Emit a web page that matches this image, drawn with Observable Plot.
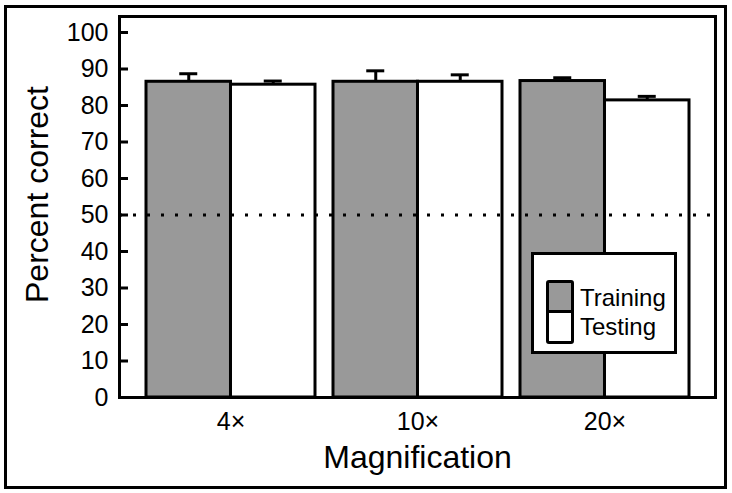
<!DOCTYPE html>
<html>
<head>
<meta charset="utf-8">
<script src="https://cdn.jsdelivr.net/npm/d3@7"></script>
<script src="https://cdn.jsdelivr.net/npm/@observablehq/plot@0.6"></script>
<style>
  html, body { margin: 0; padding: 0; background: #fff; }
  #wrap { position: relative; width: 732px; height: 493px; font-family: "Liberation Sans", Arial, sans-serif; }
  #legend { position: absolute; left: 531px; top: 252px; width: 146px; height: 102px; box-sizing: border-box;
            border: 3px solid #000; background: #fff; }
  .sw { position: absolute; left: 12px; width: 28px; box-sizing: border-box; border: 3px solid #000; }
  .lab { position: absolute; left: 46px; font-size: 24px; line-height: 24px; color: #000; white-space: nowrap; }
</style>
</head>
<body>
<div id="wrap"></div>
<script>
const categories = ["4×", "10×", "20×"];
const sets = ["Training", "Testing"];
const trainingMean = [86.5, 86.5, 86.7];
const trainingErr = [2.2, 3.0, 0.9];
const testingMean = [85.7, 86.5, 81.4];
const testingErr = [1.0, 1.9, 1.1];
const yTicks = [0, 10, 20, 30, 40, 50, 60, 70, 80, 90, 100];
const chanceLevel = 50;
const colors = {Training: "#999999", Testing: "#ffffff"};

const data = [];
categories.forEach((c, i) => {
  data.push({mag: c, set: "Training", mean: trainingMean[i], hi: trainingMean[i] + trainingErr[i]});
  data.push({mag: c, set: "Testing", mean: testingMean[i], hi: testingMean[i] + testingErr[i]});
});
const train = data.filter(d => d.set === "Training");
const test = data.filter(d => d.set === "Testing");

const W = 732, H = 493;
const mL = 119, mR = 17, mT = 16, mB = 96;
const pIn = 0.0987, pOut = 0.1387;
const bw = (W - mL - mR) * (1 - pIn) / (categories.length - pIn + 2 * pOut);
const capHalf = 9;

const plot = Plot.plot({
  width: W, height: H,
  marginLeft: mL, marginRight: mR, marginTop: mT, marginBottom: mB,
  style: {fontFamily: "'Liberation Sans', Arial, sans-serif", fontSize: "25px", color: "#000", background: "transparent"},
  x: {type: "band", domain: categories, paddingInner: pIn, paddingOuter: pOut},
  y: {domain: [0, (H - mB - mT) / 3.65]},
  marks: [
    Plot.frame({stroke: "#000", strokeWidth: 3, insetLeft: -114, insetRight: -10, insetTop: -10, insetBottom: -90}),
    Plot.ruleX(train, {x: "mag", y1: "mean", y2: "hi", dx: -bw / 4, stroke: "#000", strokeWidth: 3}),
    Plot.ruleX(test, {x: "mag", y1: "mean", y2: "hi", dx: bw / 4, stroke: "#000", strokeWidth: 3}),
    Plot.barY(train, {x: "mag", y: "mean", fill: d => colors[d.set], stroke: "#000", strokeWidth: 3, insetRight: bw / 2}),
    Plot.barY(test, {x: "mag", y: "mean", fill: d => colors[d.set], stroke: "#000", strokeWidth: 3, insetLeft: bw / 2}),
    Plot.tickY(train, {x: "mag", y: "hi", stroke: "#000", strokeWidth: 3, insetLeft: bw / 4 - capHalf, insetRight: 3 * bw / 4 - capHalf}),
    Plot.tickY(test, {x: "mag", y: "hi", stroke: "#000", strokeWidth: 3, insetLeft: 3 * bw / 4 - capHalf, insetRight: bw / 4 - capHalf}),
    Plot.ruleY([chanceLevel], {stroke: "#000", strokeWidth: 3, strokeDasharray: "3 11"}),
    Plot.frame({stroke: "#000", strokeWidth: 3}),
    Plot.axisY({ticks: yTicks, tickSize: -9, tickPadding: 20, strokeWidth: 3, label: null, fontSize: 25, tickFormat: d => String(d)}),
    Plot.axisX({tickSize: 0, tickPadding: 15, label: null, fontSize: 25}),
    Plot.text(["Magnification"], {frameAnchor: "bottom", dy: 70, lineAnchor: "bottom", fontSize: 32, textAnchor: "middle"}),
    Plot.text(["Percent correct"], {frameAnchor: "left", dx: -72, dy: -12.5, rotate: -90, lineAnchor: "bottom", fontSize: 32, textAnchor: "middle"})
  ]
});

const wrap = document.getElementById("wrap");
wrap.appendChild(plot);

const legend = document.createElement("div");
legend.id = "legend";
const swTop = document.createElement("div");
swTop.className = "sw";
swTop.style.cssText = `top:25px;height:33px;background:${colors[sets[0]]};border-radius:3px 3px 0 0;`;
const swBot = document.createElement("div");
swBot.className = "sw";
swBot.style.cssText = `top:55px;height:34px;background:${colors[sets[1]]};border-radius:0 0 3px 3px;`;
legend.appendChild(swTop);
legend.appendChild(swBot);
sets.forEach((s, i) => {
  const t = document.createElement("div");
  t.className = "lab";
  t.textContent = s;
  t.style.top = (i === 0 ? 31 : 60) + "px";
  legend.appendChild(t);
});
wrap.appendChild(legend);
</script>
</body>
</html>
